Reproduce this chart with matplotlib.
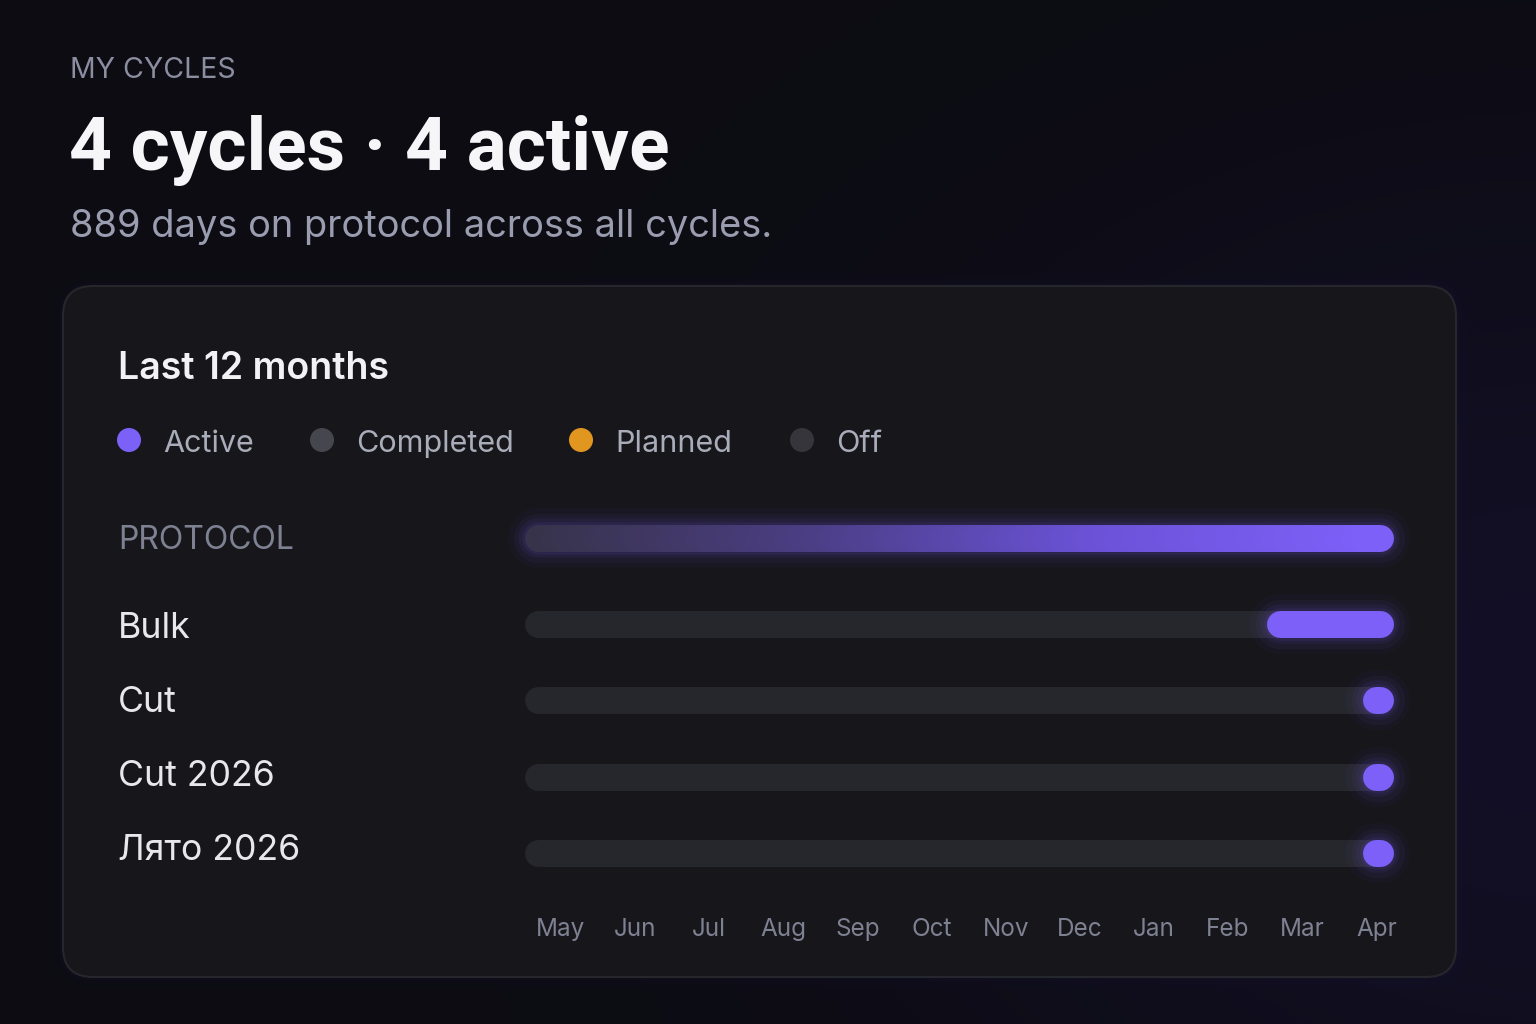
import numpy as np
import matplotlib.pyplot as plt
from matplotlib.patches import FancyBboxPatch, Circle
from matplotlib.collections import LineCollection
from matplotlib.colors import LinearSegmentedColormap

plt.rcParams['font.family'] = ['Inter', 'DejaVu Sans']

# data
months = ["May", "Jun", "Jul", "Aug", "Sep", "Oct", "Nov", "Dec", "Jan", "Feb", "Mar", "Apr"]
cycles = ["Bulk", "Cut", "Cut 2026", "Лято 2026"]
cycle_start = [312, 352, 352, 352]   # day in the 365 day window
cycle_end = [365, 365, 365, 365]
protocol_start, protocol_end = 0, 365
legend_labels = ["Active", "Completed", "Planned", "Off"]
legend_colors = ["#7b61f8", "#46464e", "#e0961f", "#35353b"]

ACTIVE = "#7c60f7"
TRACK = "#26272d"

W, H = 1536, 1024
fig = plt.figure(figsize=(W / 100, H / 100), dpi=100)

# background with a faint purple glow
bg = fig.add_axes([0, 0, 1, 1])
bg.set_xlim(0, W)
bg.set_ylim(H, 0)
bg.axis("off")
yy, xx = np.mgrid[0:H:4, 0:W:4]
glow = np.exp(-(((xx - 1560) / 650) ** 2 + ((yy - 700) / 500) ** 2))
base = np.array([12, 12, 18]) / 255
tint = np.array([19, 15, 38]) / 255
img = base[None, None, :] * (1 - glow[..., None]) + tint[None, None, :] * glow[..., None]
bg.imshow(img, extent=[0, W, H, 0], aspect="auto", zorder=0)

# card
for k, a in [(18, 0.03), (10, 0.04), (5, 0.05)]:
    bg.add_patch(FancyBboxPatch((63, 286), 1393, 691, boxstyle="round,pad=0,rounding_size=30",
                                fc="none", ec="#2b2350", lw=k, alpha=a, zorder=1))
bg.add_patch(FancyBboxPatch((63, 286), 1393, 691, boxstyle="round,pad=0,rounding_size=30",
                            fc="#16161b", ec="#26262d", lw=1.5, zorder=2))

# header text
bg.text(70, 78, "MY CYCLES", color="#8a8ea0", fontsize=20.5, va="baseline", zorder=3)
bg.text(69, 170, "4 cycles · 4 active", color="#f6f6f8", fontsize=54, fontweight="bold",
        family=["Roboto", "DejaVu Sans"], va="baseline", zorder=3)
bg.text(70, 237, "889 days on protocol across all cycles.", color="#9a9db0", fontsize=27.4,
        va="baseline", zorder=3)
bg.text(118, 379, "Last 12 months", color="#f2f2f4", fontsize=27, fontweight="semibold",
        va="baseline", zorder=3)

# legend
legend_x = [129, 322, 581, 802]
for x, lab, c in zip(legend_x, legend_labels, legend_colors):
    bg.add_patch(Circle((x, 440), 12, fc=c, ec="none", zorder=3))
    bg.text(x + 34, 452, lab, color="#a9acb9", fontsize=22, va="baseline", zorder=3)

# row labels
bg.text(118, 549, "PROTOCOL", color="#7e8192", fontsize=23, va="baseline", zorder=3)
label_y = [638, 712, 786, 860]
for y, name in zip(label_y, cycles):
    bg.text(118, y, name, color="#e8e8ec", fontsize=25.7, va="baseline", zorder=3)

# timeline axes: x in days, y in pixels
x0_px, x1_px = 524, 1393
top_px, bot_px = 480, 960
ax = fig.add_axes([x0_px / W, 1 - bot_px / H, (x1_px - x0_px) / W, (bot_px - top_px) / H])
ax.set_xlim(0, 365)
ax.set_ylim(bot_px, top_px)
ax.axis("off")
ax.patch.set_alpha(0)

px_per_day = (x1_px - x0_px) / 365
bar_px = 27
bar_lw = bar_px * 72 / 100
r = (bar_px / 2) / px_per_day   # cap radius in days


def bar(y, start, end, color, lw=bar_lw, alpha=1.0, z=3):
    ax.plot([start + r, max(end - r, start + r + 0.3)], [y, y], color=color, lw=lw,
            alpha=alpha, solid_capstyle="round", zorder=z, clip_on=False)


def glow_bar(y, start, end, color):
    for extra, a in [(24, 0.035), (16, 0.05), (9, 0.07), (4, 0.09)]:
        bar(y, start, end, color, lw=bar_lw + extra, alpha=a, z=2)


# protocol bar with gradient
proto_y = 538
glow_bar(proto_y, protocol_start, protocol_end, ACTIVE)
cmap = LinearSegmentedColormap.from_list("proto", ["#37334a", "#4b3e84", "#6a52d6", "#7d60f8"])
edges = np.linspace(protocol_start + r, protocol_end - r, 200)
segs = [[(a, proto_y), (b, proto_y)] for a, b in zip(edges[:-1], edges[1:])]
lc = LineCollection(segs, colors=cmap(np.linspace(0, 1, len(segs))), linewidths=bar_lw,
                    capstyle="round", zorder=3, clip_on=False)
ax.add_collection(lc)

# cycle rows
row_y = [624, 700, 777, 853]
for y, s, e in zip(row_y, cycle_start, cycle_end):
    bar(y, 0, 365, TRACK, z=2)
    glow_bar(y, s, e, ACTIVE)
    bar(y, s, e, ACTIVE, z=4)

# month labels
month_pos = np.linspace(15.5, 358, len(months))
for x, m in zip(month_pos, months):
    ax.text(x, 936, m, color="#7e8192", fontsize=17.5, ha="center", va="baseline")

fig.savefig("out.png", dpi=100, facecolor="#0c0c12")
